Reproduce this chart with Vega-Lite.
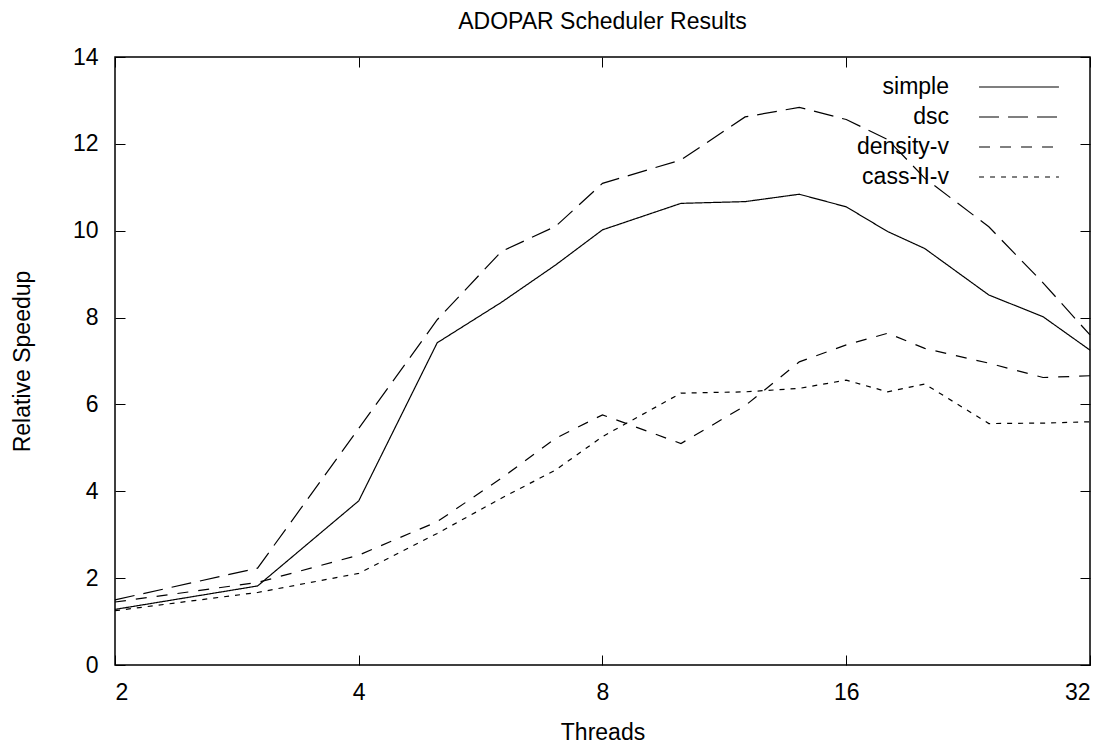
{
  "$schema": "https://vega.github.io/schema/vega-lite/v6.json",
  "width": 975,
  "height": 608,
  "autosize": "none",
  "padding": {"left": 115, "top": 57, "right": 26, "bottom": 81},
  "background": "white",
  "title": {"text": "ADOPAR Scheduler Results", "font": "Liberation Sans", "fontSize": 23, "fontWeight": "normal", "color": "black", "offset": 12, "anchor": "middle"},
  "config": {
    "view": {"stroke": "black", "strokeWidth": 1.5},
    "axis": {"domain": false, "grid": false, "tickColor": "black", "tickWidth": 1, "labelColor": "black", "titleColor": "black", "labelFont": "Liberation Sans", "titleFont": "Liberation Sans", "labelFontSize": 23, "titleFontSize": 23, "titleFontWeight": "normal"}
  },
  "data": {"values": [
    {"threads": 2, "speedup": 1.28, "series": "simple"},
    {"threads": 3, "speedup": 1.82, "series": "simple"},
    {"threads": 4, "speedup": 3.78, "series": "simple"},
    {"threads": 5, "speedup": 7.42, "series": "simple"},
    {"threads": 6, "speedup": 8.35, "series": "simple"},
    {"threads": 7, "speedup": 9.21, "series": "simple"},
    {"threads": 8, "speedup": 10.02, "series": "simple"},
    {"threads": 10, "speedup": 10.63, "series": "simple"},
    {"threads": 12, "speedup": 10.67, "series": "simple"},
    {"threads": 14, "speedup": 10.84, "series": "simple"},
    {"threads": 16, "speedup": 10.55, "series": "simple"},
    {"threads": 18, "speedup": 9.98, "series": "simple"},
    {"threads": 20, "speedup": 9.59, "series": "simple"},
    {"threads": 24, "speedup": 8.52, "series": "simple"},
    {"threads": 28, "speedup": 8.02, "series": "simple"},
    {"threads": 32, "speedup": 7.25, "series": "simple"},
    {"threads": 2, "speedup": 1.5, "series": "dsc"},
    {"threads": 3, "speedup": 2.23, "series": "dsc"},
    {"threads": 4, "speedup": 5.45, "series": "dsc"},
    {"threads": 5, "speedup": 7.95, "series": "dsc"},
    {"threads": 6, "speedup": 9.52, "series": "dsc"},
    {"threads": 7, "speedup": 10.1, "series": "dsc"},
    {"threads": 8, "speedup": 11.09, "series": "dsc"},
    {"threads": 10, "speedup": 11.63, "series": "dsc"},
    {"threads": 12, "speedup": 12.62, "series": "dsc"},
    {"threads": 14, "speedup": 12.84, "series": "dsc"},
    {"threads": 16, "speedup": 12.56, "series": "dsc"},
    {"threads": 18, "speedup": 12.1, "series": "dsc"},
    {"threads": 20, "speedup": 11.21, "series": "dsc"},
    {"threads": 24, "speedup": 10.09, "series": "dsc"},
    {"threads": 28, "speedup": 8.8, "series": "dsc"},
    {"threads": 32, "speedup": 7.6, "series": "dsc"},
    {"threads": 2, "speedup": 1.45, "series": "density-v"},
    {"threads": 3, "speedup": 1.9, "series": "density-v"},
    {"threads": 4, "speedup": 2.53, "series": "density-v"},
    {"threads": 5, "speedup": 3.3, "series": "density-v"},
    {"threads": 6, "speedup": 4.3, "series": "density-v"},
    {"threads": 7, "speedup": 5.22, "series": "density-v"},
    {"threads": 8, "speedup": 5.76, "series": "density-v"},
    {"threads": 10, "speedup": 5.1, "series": "density-v"},
    {"threads": 12, "speedup": 5.97, "series": "density-v"},
    {"threads": 14, "speedup": 6.98, "series": "density-v"},
    {"threads": 16, "speedup": 7.37, "series": "density-v"},
    {"threads": 18, "speedup": 7.64, "series": "density-v"},
    {"threads": 20, "speedup": 7.29, "series": "density-v"},
    {"threads": 24, "speedup": 6.95, "series": "density-v"},
    {"threads": 28, "speedup": 6.62, "series": "density-v"},
    {"threads": 32, "speedup": 6.66, "series": "density-v"},
    {"threads": 2, "speedup": 1.25, "series": "cass-II-v"},
    {"threads": 3, "speedup": 1.67, "series": "cass-II-v"},
    {"threads": 4, "speedup": 2.11, "series": "cass-II-v"},
    {"threads": 5, "speedup": 3.03, "series": "cass-II-v"},
    {"threads": 6, "speedup": 3.84, "series": "cass-II-v"},
    {"threads": 7, "speedup": 4.49, "series": "cass-II-v"},
    {"threads": 8, "speedup": 5.26, "series": "cass-II-v"},
    {"threads": 10, "speedup": 6.26, "series": "cass-II-v"},
    {"threads": 12, "speedup": 6.29, "series": "cass-II-v"},
    {"threads": 14, "speedup": 6.37, "series": "cass-II-v"},
    {"threads": 16, "speedup": 6.56, "series": "cass-II-v"},
    {"threads": 18, "speedup": 6.29, "series": "cass-II-v"},
    {"threads": 20, "speedup": 6.47, "series": "cass-II-v"},
    {"threads": 24, "speedup": 5.56, "series": "cass-II-v"},
    {"threads": 28, "speedup": 5.57, "series": "cass-II-v"},
    {"threads": 32, "speedup": 5.6, "series": "cass-II-v"}
  ]},
  "layer": [
    {
      "mark": {"type": "line", "color": "black", "strokeWidth": 1.2},
      "encoding": {
        "x": {"field": "threads", "type": "quantitative", "scale": {"type": "log", "base": 2, "domain": [2, 32], "nice": false}, "axis": {"orient": "bottom", "values": [2, 4, 8, 16, 32], "format": "d", "tickSize": -10, "labelPadding": 26, "title": "Threads", "titlePadding": 17}},
        "y": {"field": "speedup", "type": "quantitative", "scale": {"domain": [0, 14], "nice": false}, "axis": {"orient": "left", "values": [0, 2, 4, 6, 8, 10, 12, 14], "tickSize": -10, "labelPadding": 27, "title": "Relative Speedup", "titlePadding": 38}},
        "strokeDash": {"field": "series", "type": "nominal", "scale": {"domain": ["simple", "dsc", "density-v", "cass-II-v"], "range": [[1, 0], [20, 9], [11, 10], [5, 6]]},
          "legend": {"title": null, "orient": "none", "legendX": 886, "legendY": 12, "symbolType": "M-2.35,0H2.35", "symbolSize": 1156, "symbolStrokeColor": "black", "symbolStrokeWidth": 1.2, "labelAlign": "right", "labelOffset": -88, "labelFont": "Liberation Sans", "labelFontSize": 23, "labelColor": "black", "rowPadding": 0}}
      }
    },
    {
      "mark": {"type": "line", "opacity": 0},
      "encoding": {
        "x": {"field": "threads", "type": "quantitative", "scale": {"type": "log", "base": 2, "domain": [2, 32], "nice": false}, "axis": {"orient": "top", "values": [2, 4, 8, 16, 32], "tickSize": -10, "labels": false, "title": null}},
        "y": {"field": "speedup", "type": "quantitative", "scale": {"domain": [0, 14], "nice": false}, "axis": {"orient": "right", "values": [0, 2, 4, 6, 8, 10, 12, 14], "tickSize": -10, "labels": false, "title": null}}
      }
    }
  ],
  "resolve": {"axis": {"x": "independent", "y": "independent"}}
}
